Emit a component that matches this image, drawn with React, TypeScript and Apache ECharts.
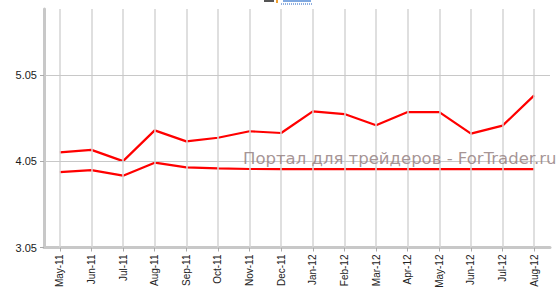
import React, { useEffect, useRef } from "react";
import * as echarts from "echarts";

const categories = [
  "May-11", "Jun-11", "Jul-11", "Aug-11", "Sep-11", "Oct-11", "Nov-11", "Dec-11",
  "Jan-12", "Feb-12", "Mar-12", "Apr-12", "May-12", "Jun-12", "Jul-12", "Aug-12",
];
const upperSeries = [
  4.155, 4.184, 4.053, 4.41, 4.283, 4.325, 4.40, 4.38,
  4.63, 4.60, 4.469, 4.623, 4.623, 4.372, 4.465, 4.817,
];
const lowerSeries = [
  3.926, 3.949, 3.884, 4.035, 3.98, 3.97, 3.962, 3.96,
  3.96, 3.96, 3.96, 3.96, 3.96, 3.96, 3.96, 3.96,
];
const yTicks = [3.05, 4.05, 5.05];
const yMin = 3.05;
const yMax = 5.82;
const watermark = "Портал для трейдеров - ForTrader.ru";

export default function App() {
  const ref = useRef<HTMLDivElement>(null);
  useEffect(() => {
    if (!ref.current) return;
    const chart = echarts.init(ref.current, null, { renderer: "svg" });
    const font = "Liberation Sans";
    chart.setOption({
      animation: false,
      backgroundColor: "#ffffff",
      grid: { left: 44, right: 9, top: 9, bottom: 53.5, containLabel: false },
      xAxis: {
        type: "category",
        data: categories,
        boundaryGap: true,
        axisLine: { show: true, lineStyle: { color: "#c8c8c8", width: 3 } },
        axisTick: { show: true, alignWithLabel: true, length: 4, lineStyle: { color: "#aaaaaa", width: 1 } },
        axisLabel: { rotate: 90, margin: 7, fontSize: 10, fontFamily: font, color: "#222222" },
        splitLine: { show: false },
      },
      yAxis: {
        type: "value",
        min: yMin,
        max: yMax,
        axisLine: { show: true, lineStyle: { color: "#c8c8c8", width: 3 } },
        axisTick: { show: true, length: 4, customValues: yTicks, lineStyle: { color: "#aaaaaa", width: 1 } },
        axisLabel: {
          customValues: yTicks,
          margin: 7,
          fontSize: 11,
          fontFamily: font,
          color: "#1a1a1a",
          formatter: (v: number) => v.toFixed(2),
        },
        splitLine: { show: false },
      },
      series: [
        {
          type: "line",
          data: [],
          silent: true,
          z: 1,
          markLine: {
            silent: true,
            symbol: ["none", "none"],
            label: { show: false },
            lineStyle: { color: "#d4d4d4", width: 1.5, type: "solid" },
            data: [
              ...categories.map((c) => ({ xAxis: c })),
              ...yTicks.slice(1).map((v) => ({ yAxis: v, lineStyle: { color: "#c8c8c8", width: 1.2 } })),
            ],
          },
        },
        {
          type: "line",
          data: upperSeries,
          symbol: "none",
          z: 3,
          lineStyle: { color: "#ff0000", width: 2.2 },
        },
        {
          type: "line",
          data: lowerSeries,
          symbol: "none",
          z: 3,
          lineStyle: { color: "#ff0000", width: 2.2 },
        },
      ],
      graphic: [
        {
          type: "text",
          left: 243,
          top: 150,
          z: 10,
          style: {
            text: watermark,
            font: "16.5px 'DejaVu Sans'",
            fill: "rgba(150,130,130,0.85)",
          },
        },
        {
          type: "line",
          shape: { x1: 281, y1: 4, x2: 312, y2: 4 },
          style: { stroke: "#1f5fbf", lineWidth: 1, lineDash: [1, 1] },
        },
        {
          type: "rect",
          shape: { x: 276, y: 0, width: 2, height: 3 },
          style: { fill: "#f0a030" },
        },
        {
          type: "rect",
          shape: { x: 264, y: 0, width: 10, height: 2 },
          style: { fill: "#555555" },
        },
        {
          type: "rect",
          shape: { x: 283, y: 0, width: 28, height: 2 },
          style: { fill: "#7fa8e0" },
        },
      ],
    });
    return () => chart.dispose();
  }, []);
  return (
    <div
      ref={ref}
      style={{ position: "fixed", left: 0, top: 0, width: 559, height: 301 }}
    />
  );
}
